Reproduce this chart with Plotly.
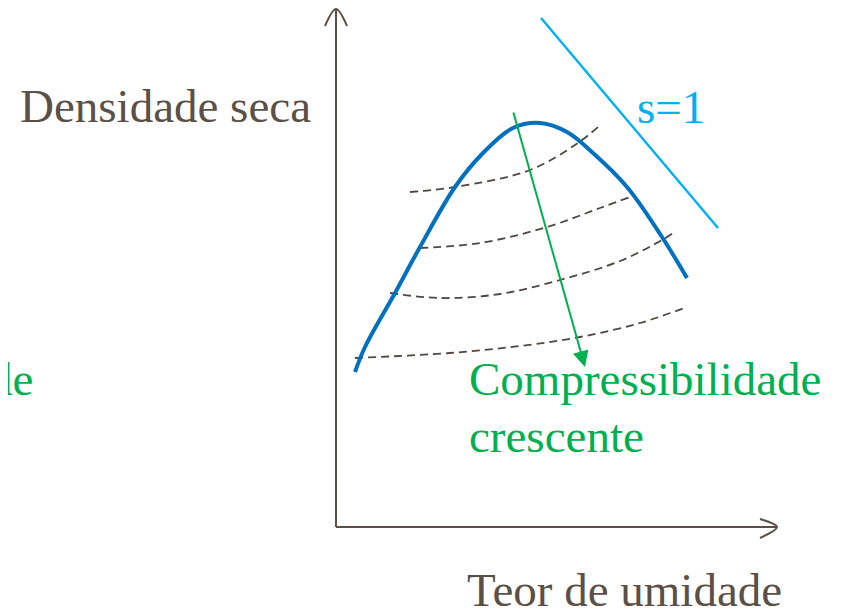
import plotly.graph_objects as go

# Diagram coordinates (x: moisture axis, y: dry density axis, drawn in a 846x613 frame)
curve_x = [355, 365, 395, 420, 455, 483, 513, 540, 567, 593, 627, 662, 687]
curve_y = [372, 347, 293, 247, 187, 153, 128, 123, 132, 153, 187, 237, 278]

sat_x = [541, 718]
sat_y = [18, 228]

dash1_x = [410, 455, 530, 578, 598]
dash1_y = [192, 187, 170, 143, 127]
dash2_x = [420, 480, 547, 600, 630]
dash2_y = [248, 243, 227, 208, 197]
dash3_x = [390, 440, 500, 560, 620, 662, 673]
dash3_y = [293, 298, 294, 280, 261, 240, 233]
dash4_x = [355, 450, 520, 580, 640, 687]
dash4_y = [358, 353, 346, 337, 323, 307]

yaxis_x = [336, 336]
yaxis_y = [527, 10]
yhead_x = [325, 336, 347]
yhead_y = [26, 9, 26]
xaxis_x = [336, 776]
xaxis_y = [527, 527]
xhead_x = [760, 777, 760]
xhead_y = [519, 527, 538]

arrow_start = (513, 111)
arrow_end = (585, 367)

AX = "#5a5048"
BLUE = "#0070c0"
CYAN = "#00b0f0"
GREEN = "#00b050"
FONT = "Liberation Serif"
SIZE = 47
OFF = 8  # page body margin

fig = go.Figure()

def line(x, y, color, width, dash=None):
    fig.add_trace(go.Scatter(x=x, y=y, mode="lines", hoverinfo="skip",
                             line=dict(color=color, width=width, dash=dash, shape="spline"),
                             showlegend=False))

for dx, dy in [(dash1_x, dash1_y), (dash2_x, dash2_y), (dash3_x, dash3_y), (dash4_x, dash4_y)]:
    line(dx, dy, "#4f4741", 1.8, "8px,5px")

line(curve_x, curve_y, BLUE, 4)
line(sat_x, sat_y, CYAN, 2.4)
line(yaxis_x, yaxis_y, AX, 2)
line(yhead_x, yhead_y, AX, 2)
line(xaxis_x, xaxis_y, AX, 2)
line(xhead_x, xhead_y, AX, 2)

fig.add_annotation(x=arrow_end[0], y=arrow_end[1], ax=arrow_start[0], ay=arrow_start[1],
                   xref="x", yref="y", axref="x", ayref="y", text="", showarrow=True,
                   arrowhead=2, arrowsize=1.6, arrowwidth=2, arrowcolor=GREEN)

def text(t, x, y, color, anchor="left"):
    fig.add_annotation(x=x, y=y, xref="x", yref="y", text=t, showarrow=False,
                       xanchor=anchor, yanchor="middle",
                       font=dict(family=FONT, size=SIZE, color=color))

text("Densidade seca", 18, 106, AX)
text("Teor de umidade", 465, 590, AX)
text("s=1", 635, 107, CYAN)
text("Compressibilidade", 467, 379, GREEN)
text("crescente", 467, 436, GREEN)
text("Compressibilidade", 35, 379, GREEN, anchor="right")

fig.update_layout(width=846, height=613, margin=dict(l=0, r=0, t=0, b=0),
                  paper_bgcolor="white", plot_bgcolor="white",
                  xaxis=dict(range=[OFF, 846 + OFF], visible=False, fixedrange=True),
                  yaxis=dict(range=[613 + OFF, OFF], visible=False, fixedrange=True))

fig.write_html("out.html")
